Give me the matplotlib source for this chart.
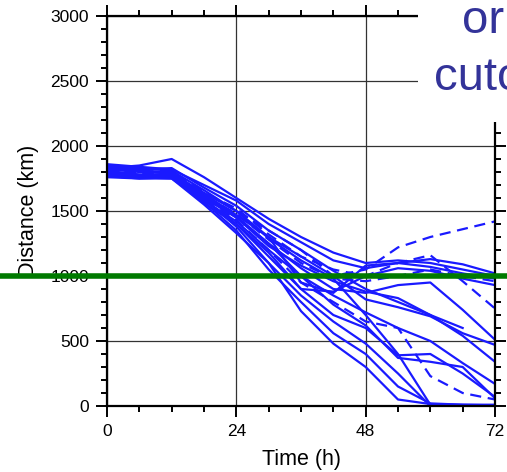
import numpy as np
import matplotlib
matplotlib.use("Agg")
import matplotlib.pyplot as plt
from matplotlib.patches import Rectangle

nan = np.nan

# forecast hour of each point
hours = [0, 6, 12, 18, 24, 30, 36, 42, 48, 54, 60, 66, 72]

# distance (km) for each ensemble track, solid ones
solid_tracks = [
    [1830, 1850, 1900, 1760, 1600, 1440, 1300, 1180, 1100, 1120, 1100, 1050, 1000],
    [1860, 1840, 1820, 1700, 1580, 1400, 1260, 1120, 1060, 1100, 1130, 1090, 1020],
    [1790, 1770, 1780, 1600, 1450, 1250, 1060, 900, 870, 930, 950, 740, 510],
    [1810, 1780, 1770, 1630, 1470, 1300, 1150, 1000, 820, 760, 690, 560, 470],
    [1840, 1820, 1830, 1680, 1540, 1350, 1200, 1040, 900, 800, 700, 600, nan],
    [1780, 1760, 1750, 1580, 1420, 1200, 1000, 850, 720, 600, 500, 330, 170],
    [1770, 1750, 1760, 1560, 1400, 1150, 900, 700, 600, 390, 400, 250, 70],
    [1800, 1770, 1790, 1590, 1380, 1100, 730, 480, 300, 50, 15, 10, 10],
    [1790, 1760, 1770, 1570, 1350, 1050, 800, 560, 400, 150, 20, 10, 5],
    [1830, 1810, 1800, 1620, 1460, 1250, 1000, 780, 620, 370, 340, 300, 60],
    [1760, 1750, 1750, 1550, 1330, 1100, 850, 650, 480, 250, 0, nan, nan],
    [1850, 1830, 1810, 1660, 1500, 1300, 950, 870, 1080, 1100, 1070, 1020, 980],
    [1800, 1780, 1780, 1610, 1450, 1230, 1080, 960, 880, 830, 700, 540, 340],
    [1820, 1800, 1790, 1640, 1500, 1290, 1120, 980, 700, 400, 10, nan, nan],
    [1780, 1770, 1770, 1590, 1400, 1180, 900, 880, 1000, 1060, 1040, 980, 930],
]

# dashed tracks
dashed_tracks = [
    [1850, 1830, 1800, 1650, 1500, 1350, 1200, 1000, 1050, 1220, 1300, 1360, 1420],
    [1820, 1800, 1790, 1640, 1520, 1320, 1150, 1050, 1000, 1100, 1160, 960, 750],
    [1800, 1790, 1780, 1620, 1480, 1280, 1100, 980, 960, 1000, 1050, 1000, 960],
    [1810, 1790, 1780, 1600, 1430, 1200, 950, 800, 650, 600, 230, 100, 50],
]

threshold_km = 1000
x_ticks = [0, 24, 48, 72]
y_ticks = [0, 500, 1000, 1500, 2000, 2500, 3000]

plt.rcParams['font.family'] = ['Liberation Sans', 'DejaVu Sans']

fig = plt.figure(figsize=(5.07, 4.72), dpi=100)
ax = fig.add_axes([107 / 507, 1 - 406 / 472, 388 / 507, 390 / 472])

blue = '#1a1aff'
for tr in solid_tracks:
    ax.plot(hours, tr, color=blue, lw=1.6)
for tr in dashed_tracks:
    ax.plot(hours, tr, color=blue, lw=1.6, linestyle=(0, (5, 3)))

# threshold line runs across the whole picture
ax.axhline(threshold_km, xmin=-0.3, xmax=1.1, color='#007a00', lw=4, clip_on=False, zorder=5)

ax.set_xlim(0, 72)
ax.set_ylim(0, 3000)
ax.set_xticks(x_ticks)
ax.set_yticks(y_ticks)
ax.set_xticks(np.arange(0, 73, 6), minor=True)
ax.set_yticks(np.arange(0, 3001, 100), minor=True)
ax.grid(True, which='major', color='#333333', lw=0.9)
ax.tick_params(which='both', direction='out', top=True, right=True, width=1.4)
ax.tick_params(which='major', length=8, labelsize=12.5, pad=5)
ax.tick_params(which='minor', length=4)
for sp in ax.spines.values():
    sp.set_linewidth(1.6)

ax.set_xlabel('Time (h)', fontsize=15.5, labelpad=7)
ax.set_ylabel('Distance (km)', fontsize=15.5, labelpad=8)

# white box of the slide text covering the upper right corner
fig.add_artist(Rectangle((418 / 507, 1 - 122 / 472), 1, 1, transform=fig.transFigure,
                         facecolor='white', edgecolor='none', zorder=10))
fig.text(462 / 507, 1 - 33 / 472, 'or', fontsize=34, color='#333399', zorder=11)
fig.text(434 / 507, 1 - 90 / 472, 'cuto', fontsize=34, color='#333399', zorder=11)

fig.savefig('out.png', dpi=100)
